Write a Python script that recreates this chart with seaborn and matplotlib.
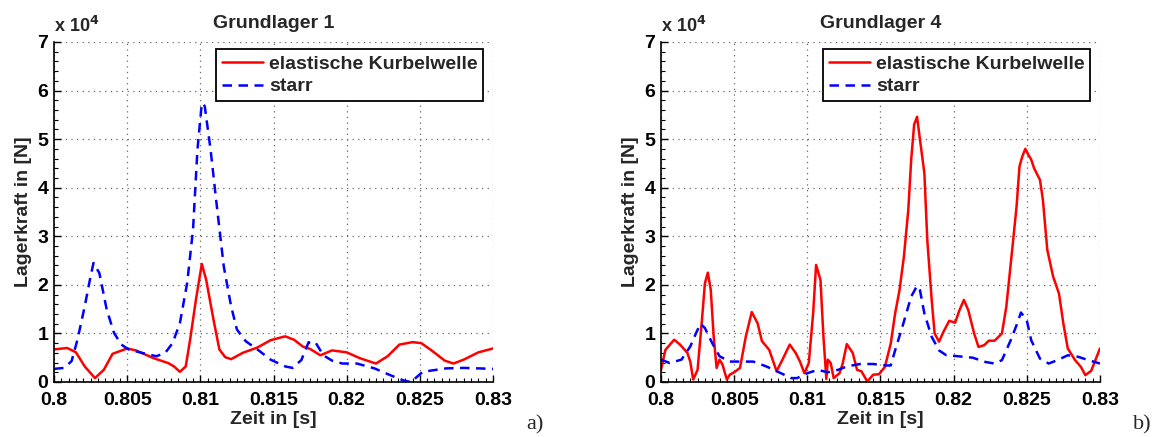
import pandas as pd
import matplotlib
matplotlib.use("Agg")
import matplotlib.pyplot as plt
from matplotlib.ticker import MultipleLocator, FuncFormatter
import seaborn as sns


# Daten (Lagerkraft in 10^4 N)
# Grundlager 1
t_gl1_elast = [0.8, 0.8009, 0.8015, 0.8021, 0.8028, 0.8034, 0.804, 0.805, 0.8056, 0.8068,
               0.8078, 0.8082, 0.8086, 0.809, 0.8093, 0.8097, 0.8101, 0.8104, 0.8109, 0.8113,
               0.8117, 0.8121, 0.8129, 0.8139, 0.8148, 0.8158, 0.8164, 0.817, 0.8175, 0.8182,
               0.819, 0.82, 0.8209, 0.822, 0.8228, 0.8236, 0.8245, 0.8251, 0.8258, 0.8267,
               0.8273, 0.828, 0.829, 0.83]
f_gl1_elast = [0.67, 0.70, 0.61, 0.32, 0.08, 0.25, 0.58, 0.69, 0.65, 0.49,
               0.39, 0.32, 0.21, 0.32, 0.87, 1.70, 2.43, 2.10, 1.28, 0.67,
               0.51, 0.47, 0.60, 0.71, 0.86, 0.94, 0.87, 0.73, 0.68, 0.55,
               0.65, 0.61, 0.49, 0.38, 0.53, 0.77, 0.82, 0.80, 0.65, 0.44,
               0.38, 0.46, 0.61, 0.69]

t_gl1_starr = [0.8, 0.8007, 0.8012, 0.8016, 0.8021, 0.8025, 0.8027, 0.8031, 0.8036, 0.8041,
               0.8046, 0.8051, 0.806, 0.807, 0.8076, 0.8081, 0.8086, 0.8091, 0.8095, 0.8098,
               0.8101, 0.8103, 0.8107, 0.8111, 0.8116, 0.8121, 0.8125, 0.8131, 0.8139, 0.8148,
               0.8158, 0.8163, 0.8169, 0.8174, 0.8176, 0.8179, 0.8184, 0.819, 0.8197, 0.8207,
               0.8219, 0.8229, 0.8239, 0.8244, 0.8252, 0.8268, 0.828, 0.83]
f_gl1_starr = [0.27, 0.29, 0.43, 0.87, 1.56, 2.18, 2.45, 2.24, 1.49, 1.01,
               0.77, 0.67, 0.60, 0.53, 0.60, 0.80, 1.21, 2.04, 3.14, 4.78,
               5.74, 5.68, 4.78, 3.69, 2.38, 1.56, 1.08, 0.84, 0.67, 0.46,
               0.32, 0.29, 0.45, 0.82, 0.78, 0.80, 0.55, 0.44, 0.38, 0.38,
               0.28, 0.15, 0.03, 0.0, 0.21, 0.28, 0.29, 0.27]

# Grundlager 4
t_gl4_elast = [0.8, 0.8003, 0.8009, 0.8013, 0.8018, 0.802, 0.8022, 0.8025, 0.8028, 0.803,
               0.8032, 0.8034, 0.8036, 0.8038, 0.804, 0.8042, 0.8045, 0.8047, 0.805, 0.8054,
               0.8058, 0.8062, 0.8066, 0.8069, 0.8074, 0.8079, 0.8083, 0.8088, 0.8092, 0.8095,
               0.8098, 0.8101, 0.8104, 0.8106, 0.8109, 0.8111, 0.8113, 0.8114, 0.8116, 0.8118,
               0.8122, 0.8124, 0.8127, 0.8131, 0.8134, 0.8137, 0.8141, 0.8145, 0.8149, 0.8153,
               0.8157, 0.816, 0.8163, 0.8166, 0.8169, 0.8171, 0.8173, 0.8175, 0.8177, 0.818,
               0.8182, 0.8185, 0.8187, 0.819, 0.8193, 0.8197, 0.8201, 0.8204, 0.8207, 0.821,
               0.8214, 0.8217, 0.8221, 0.8224, 0.8228, 0.8233, 0.8236, 0.824, 0.8243, 0.8245,
               0.8247, 0.8249, 0.8251, 0.8253, 0.8255, 0.8259, 0.8261, 0.8264, 0.8268, 0.8272,
               0.8275, 0.8278, 0.8283, 0.8287, 0.829, 0.8294, 0.83]
f_gl4_elast = [0.25, 0.66, 0.87, 0.77, 0.60, 0.42, 0.05, 0.25, 1.28, 2.03,
               2.25, 1.90, 0.94, 0.29, 0.46, 0.36, 0.05, 0.15, 0.20, 0.29,
               0.94, 1.44, 1.21, 0.84, 0.66, 0.22, 0.46, 0.77, 0.60, 0.42,
               0.18, 0.39, 1.42, 2.41, 2.10, 0.94, 0.06, 0.46, 0.39, 0.08,
               0.18, 0.36, 0.78, 0.60, 0.25, 0.22, 0.01, 0.15, 0.16, 0.31,
               0.79, 1.41, 1.89, 2.58, 3.54, 4.58, 5.30, 5.46, 4.99, 4.30,
               2.92, 1.69, 1.00, 0.83, 1.03, 1.26, 1.22, 1.48, 1.69, 1.48,
               1.00, 0.72, 0.76, 0.85, 0.85, 1.00, 1.55, 2.72, 3.61, 4.44,
               4.65, 4.80, 4.68, 4.58, 4.40, 4.16, 3.75, 2.72, 2.17, 1.82,
               1.20, 0.69, 0.45, 0.31, 0.14, 0.23, 0.69]

t_gl4_starr = [0.8, 0.8006, 0.8014, 0.802, 0.8024, 0.8027, 0.803, 0.8035, 0.804, 0.8047,
               0.8057, 0.8063, 0.8072, 0.8082, 0.8089, 0.8093, 0.81, 0.8107, 0.8114, 0.8121,
               0.8127, 0.8136, 0.8145, 0.8154, 0.8157, 0.816, 0.8165, 0.8171, 0.8175, 0.8177,
               0.818, 0.8185, 0.819, 0.8195, 0.8203, 0.8213, 0.8222, 0.8228, 0.8233, 0.8239,
               0.8243, 0.8246, 0.825, 0.8253, 0.8259, 0.8265, 0.8271, 0.8278, 0.8285, 0.8292,
               0.83]
f_gl4_starr = [0.46, 0.39, 0.46, 0.73, 1.01, 1.20, 1.11, 0.80, 0.53, 0.42,
               0.42, 0.42, 0.32, 0.18, 0.08, 0.08, 0.18, 0.25, 0.20, 0.25,
               0.32, 0.37, 0.37, 0.34, 0.34, 0.65, 1.14, 1.76, 1.98, 1.89,
               1.41, 0.93, 0.65, 0.55, 0.53, 0.50, 0.41, 0.38, 0.45, 0.86,
               1.17, 1.43, 1.27, 0.86, 0.48, 0.38, 0.45, 0.55, 0.52, 0.45,
               0.38]

labels = ["elastische Kurbelwelle", "starr"]
titles = ["Grundlager 1", "Grundlager 4"]
panel_tags = ["a)", "b)"]


sns.set_theme(style="white")
plt.rcParams["font.family"] = ["Liberation Sans", "DejaVu Sans"]
plt.rcParams["font.weight"] = "bold"
plt.rcParams["axes.labelweight"] = "bold"
plt.rcParams["axes.titleweight"] = "bold"


def draw_panel(ax, t_el, f_el, t_st, f_st, title):
    df_el = pd.DataFrame({"t": t_el, "f": f_el})
    df_st = pd.DataFrame({"t": t_st, "f": f_st})

    sns.lineplot(data=df_el, x="t", y="f", ax=ax, color="#ff0000", linewidth=1.8,
                 label=labels[0], errorbar=None, solid_joinstyle="round")
    sns.lineplot(data=df_st, x="t", y="f", ax=ax, color="#0000ff", linewidth=1.8,
                 linestyle=(0, (3.8, 2.6)), label=labels[1], errorbar=None)

    ax.set_xlim(0.8, 0.83)
    ax.set_ylim(0, 7)
    ax.xaxis.set_major_locator(MultipleLocator(0.005))
    ax.xaxis.set_minor_locator(MultipleLocator(0.0005))
    ax.yaxis.set_major_locator(MultipleLocator(1))
    ax.yaxis.set_minor_locator(MultipleLocator(0.2))
    ax.xaxis.set_major_formatter(FuncFormatter(lambda v, p: f"{v:g}"))
    ax.yaxis.set_major_formatter(FuncFormatter(lambda v, p: f"{v:g}"))

    # Gitter gepunktet wie in MATLAB
    ax.grid(True, which="major", color="#666666", linestyle=(0, (1, 3.5)), linewidth=0.9)

    for side in ["top", "right"]:
        ax.spines[side].set_visible(False)
    for side in ["left", "bottom"]:
        ax.spines[side].set_color("black")
        ax.spines[side].set_linewidth(1.2)

    ax.tick_params(which="both", direction="in", bottom=True, left=True,
                   top=False, right=False, colors="black")
    ax.tick_params(which="major", length=5, width=1.0, labelsize=14)
    ax.tick_params(which="minor", length=3, width=0.8)
    ax.tick_params(axis="x", which="major", pad=7)
    ax.tick_params(axis="y", which="major", pad=4)

    ax.set_title(title, fontsize=14, pad=10)
    ax.set_xlabel("Zeit in [s]", fontsize=14, labelpad=2)
    ax.set_ylabel("Lagerkraft in [N]", fontsize=14, labelpad=4)

    ax.text(0.0, 1.018, r"x 10$^{\mathbf{4}}$", transform=ax.transAxes,
            fontsize=13, fontweight="bold", ha="left", va="bottom")

    leg = ax.legend(loc="upper right", bbox_to_anchor=(0.978, 0.978), fontsize=14,
                    frameon=True, fancybox=False, handlelength=2.1, handletextpad=0.3,
                    labelspacing=0.25, borderpad=0.3, borderaxespad=0.0)
    leg.get_frame().set_edgecolor("black")
    leg.get_frame().set_linewidth(1.3)
    leg.get_frame().set_alpha(1)


fig = plt.figure(figsize=(11.57, 4.37), dpi=100)
ax1 = fig.add_axes([0.0467, 0.1259, 0.3794, 0.778])
ax2 = fig.add_axes([0.5713, 0.1259, 0.3794, 0.778])

draw_panel(ax1, t_gl1_elast, f_gl1_elast, t_gl1_starr, f_gl1_starr, titles[0])
draw_panel(ax2, t_gl4_elast, f_gl4_elast, t_gl4_starr, f_gl4_starr, titles[1])

fig.text(535 / 1157, 1 - 425 / 437, panel_tags[0], fontsize=16, fontweight="normal",
         family=["Liberation Serif", "DejaVu Serif"], ha="center", va="center")
fig.text(1142 / 1157, 1 - 425 / 437, panel_tags[1], fontsize=16, fontweight="normal",
         family=["Liberation Serif", "DejaVu Serif"], ha="center", va="center")

fig.savefig("out.png", dpi=100)
plt.close(fig)
